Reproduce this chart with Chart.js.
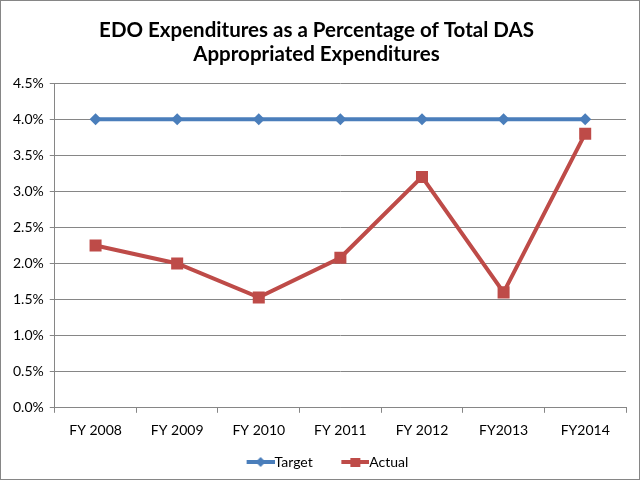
<!DOCTYPE html>
<html>
<head>
<meta charset="utf-8">
<script src="https://cdn.jsdelivr.net/npm/chart.js@4.4.0/dist/chart.umd.min.js"></script>
<style>
  html, body { margin: 0; padding: 0; background: #fff; }
  #wrap { position: relative; width: 638px; height: 478px; border: 1px solid #868686; }
</style>
</head>
<body>
<div id="wrap"><canvas id="edoChart" width="638" height="478"></canvas></div>
<script>
// Dados do gráfico
const anos = ['FY 2008', 'FY 2009', 'FY 2010', 'FY 2011', 'FY 2012', 'FY2013', 'FY2014'];
const metaValores = [4.0, 4.0, 4.0, 4.0, 4.0, 4.0, 4.0];
const realValores = [2.25, 2.0, 1.53, 2.08, 3.2, 1.6, 3.8];
const tituloLinhas = ['EDO Expenditures as a Percentage of Total DAS', 'Appropriated Expenditures'];

const AZUL = '#4a7ebb';
const VERMELHO = '#be4b48';
const CINZA = '#868686';
const LARGURA_ICONE = 43;

// Ícone de legenda: linha com marcador (parte esquerda transparente dá o espaço entre itens)
function iconeLegenda(cor, forma) {
  const c = document.createElement('canvas');
  c.width = LARGURA_ICONE + 14; c.height = 12;
  const g = c.getContext('2d');
  const x0 = c.width - 28;
  g.strokeStyle = cor;
  g.lineWidth = 4;
  g.beginPath(); g.moveTo(x0, 6); g.lineTo(x0 + 28, 6); g.stroke();
  g.fillStyle = cor;
  if (forma === 'diamond') {
    g.beginPath(); g.moveTo(x0 + 14, 1); g.lineTo(x0 + 19, 6); g.lineTo(x0 + 14, 11); g.lineTo(x0 + 9, 6); g.closePath(); g.fill();
  } else {
    g.fillRect(x0 + 9, 2, 10, 9);
  }
  return c;
}

const ctx = document.getElementById('edoChart').getContext('2d');
new Chart(ctx, {
  type: 'line',
  data: {
    labels: anos,
    datasets: [{
      label: 'Target',
      data: metaValores,
      borderColor: AZUL,
      backgroundColor: AZUL,
      borderWidth: 4,
      pointStyle: 'rectRot',
      pointRadius: 6,
      pointBorderWidth: 0,
      tension: 0
    }, {
      label: 'Actual',
      data: realValores,
      borderColor: VERMELHO,
      backgroundColor: VERMELHO,
      borderWidth: 4,
      pointStyle: 'rect',
      pointRadius: 8.5,
      pointBorderWidth: 0,
      tension: 0
    }]
  },
  options: {
    responsive: false,
    animation: false,
    layout: { padding: { left: 6, right: 13, top: 2, bottom: 0 } },
    plugins: {
      title: {
        display: true,
        text: tituloLinhas,
        color: '#000',
        font: { family: 'Lato', size: 20.5, weight: 'bold', lineHeight: 1.15 },
        padding: { top: 16, bottom: 17 }
      },
      legend: {
        position: 'bottom',
        labels: {
          usePointStyle: true,
          pointStyleWidth: LARGURA_ICONE,
          color: '#000',
          font: { family: 'Lato', size: 14 },
          padding: 6.6,
          generateLabels: (chart) => {
            const base = Chart.defaults.plugins.legend.labels.generateLabels(chart);
            base[0].pointStyle = iconeLegenda(AZUL, 'diamond');
            base[1].pointStyle = iconeLegenda(VERMELHO, 'square');
            return base;
          }
        }
      },
      tooltip: { enabled: false }
    },
    scales: {
      x: {
        offset: true,
        grid: {
          offset: true,
          drawOnChartArea: false,
          color: CINZA,
          tickLength: 5
        },
        border: { color: CINZA, width: 1 },
        ticks: {
          color: '#000',
          font: { family: 'Lato', size: 14, lineHeight: 2.4 },
          padding: 1,
          maxRotation: 0
        }
      },
      y: {
        min: 0,
        max: 4.5,
        grid: { color: CINZA, tickLength: 5 },
        border: { color: CINZA, width: 1 },
        ticks: {
          stepSize: 0.5,
          color: '#000',
          font: { family: 'Lato', size: 14 },
          padding: 6,
          callback: (v) => v.toFixed(1) + '%'
        }
      }
    }
  }
});
</script>
</body>
</html>
